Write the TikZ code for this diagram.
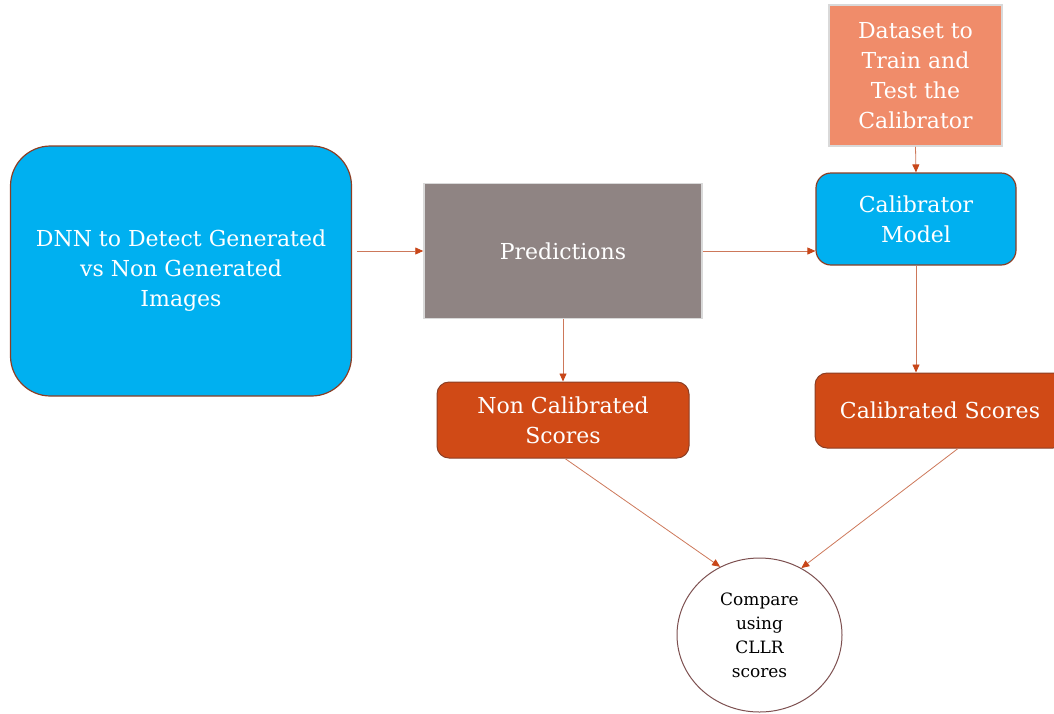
\documentclass[tikz,border=0pt]{standalone}
\usepackage{fontspec}
\setmainfont{DejaVu Serif}
\usetikzlibrary{arrows.meta,shapes.geometric}
\definecolor{boxcyan}{RGB}{0,176,240}
\definecolor{boxgray}{RGB}{143,132,131}
\definecolor{boxsalmon}{RGB}{240,140,106}
\definecolor{boxrust}{RGB}{208,74,22}
\definecolor{edgebrown}{RGB}{140,62,36}
\definecolor{linecol}{RGB}{205,120,90}
\definecolor{tipcol}{RGB}{200,70,25}
\definecolor{ringcol}{RGB}{125,80,80}
\begin{document}
\begin{tikzpicture}[x=1pt,y=-1pt,
  txt/.style={text=white,align=center,font=\fontsize{22}{30}\selectfont},
  cyanbox/.style={txt,draw=edgebrown,line width=1.2pt,fill=boxcyan,rounded corners=15pt},
  rustbox/.style={txt,draw=edgebrown,line width=1pt,fill=boxrust,rounded corners=12pt},
  flatbox/.style={txt,draw=black!15,line width=1.5pt},
  flow/.style={draw=linecol,line width=0.8pt,-{Triangle[length=8pt,width=7pt,fill=tipcol,color=tipcol]}}]
\useasboundingbox (0,0) rectangle (1054,713);
\clip (0,0) rectangle (1054,713);
% boxes
\node [cyanbox,rounded corners=40pt,minimum width=341pt,minimum height=250pt] (dnn) at (181,271)
  {DNN to Detect Generated\\vs Non Generated\\Images};
\node [flatbox,fill=boxgray,minimum width=278pt,minimum height=135pt] (pred) at (563,251) {Predictions};
\node [flatbox,fill=boxsalmon,minimum width=173pt,minimum height=141pt] (data) at (915.5,75.5)
  {Dataset to\\Train and\\Test the\\Calibrator};
\node [cyanbox,minimum width=200pt,minimum height=92pt] (calib) at (916,219) {Calibrator\\Model};
\node [rustbox,minimum width=252pt,minimum height=76pt] (noncal) at (563,420) {Non Calibrated\\Scores};
\node [rustbox,minimum width=250pt,minimum height=75pt] (cal) at (940,410.5) {Calibrated Scores};
\node [ellipse,draw=ringcol,line width=1pt,fill=white,minimum width=165pt,minimum height=154pt,
  align=center,font=\fontsize{17}{24}\selectfont] (cllr) at (759.5,635) {Compare\\using\\CLLR\\scores};
% arrows
\draw [flow] ([xshift=5pt]dnn.east |- pred.west) -- (pred.west);
\draw [flow] (pred.east) -- (pred.east -| calib.west);
\draw [flow] (data.south) -- (calib.north);
\draw [flow] (pred.south) -- (noncal.north);
\draw [flow] (calib.south) -- (calib.south |- cal.north);
\draw [flow] ([xshift=2pt]noncal.south) -- (cllr.120);
\draw [flow] ([xshift=18pt]cal.south) -- (cllr.58);
\end{tikzpicture}
\end{document}
